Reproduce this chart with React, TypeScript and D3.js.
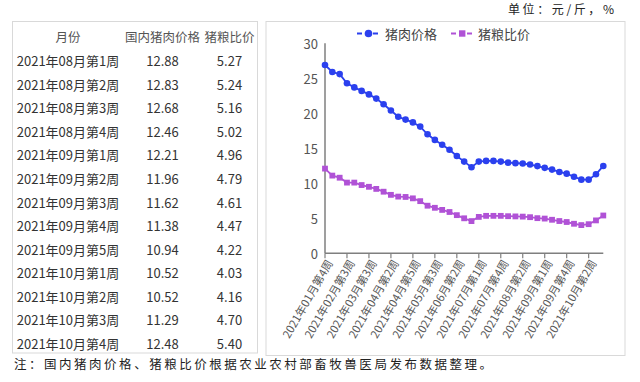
import React from "react";
import * as d3 from "d3";

const categories: string[] = [
  "2021年01月第4周","2021年02月第1周","2021年02月第2周","2021年02月第3周","2021年03月第1周",
  "2021年03月第2周","2021年03月第3周","2021年03月第4周","2021年04月第1周","2021年04月第2周",
  "2021年04月第3周","2021年04月第4周","2021年04月第5周","2021年05月第1周","2021年05月第2周",
  "2021年05月第3周","2021年05月第4周","2021年06月第1周","2021年06月第2周","2021年06月第3周",
  "2021年06月第4周","2021年07月第1周","2021年07月第2周","2021年07月第3周","2021年07月第4周",
  "2021年07月第5周","2021年08月第1周","2021年08月第2周","2021年08月第3周","2021年08月第4周",
  "2021年09月第1周","2021年09月第2周","2021年09月第3周","2021年09月第4周","2021年09月第5周",
  "2021年10月第1周","2021年10月第2周","2021年10月第3周","2021年10月第4周",
];

const porkPrice: number[] = [
  26.9, 25.9, 25.6, 24.3, 23.7, 23.2, 22.7, 22.1, 21.3, 20.4,
  19.5, 19.1, 18.7, 18.1, 17.0, 16.2, 15.5, 14.8, 13.9, 13.1,
  12.3, 13.1, 13.2, 13.2, 13.1, 12.95,
  12.88, 12.83, 12.68, 12.46, 12.21, 11.96, 11.62, 11.38, 10.94, 10.52, 10.52, 11.29, 12.48,
];

const hogGrainRatio: number[] = [
  12.1, 11.1, 10.8, 10.1, 10.1, 9.75, 9.5, 9.2, 8.8, 8.35,
  8.1, 8.05, 7.85, 7.45, 6.8, 6.5, 6.2, 5.9, 5.45, 5.0,
  4.6, 5.2, 5.35, 5.35, 5.35, 5.3,
  5.27, 5.24, 5.16, 5.02, 4.96, 4.79, 4.61, 4.47, 4.22, 4.03, 4.16, 4.70, 5.40,
];

const tableHeaders: string[] = ["月份", "国内猪肉价格", "猪粮比价"];
const seriesNames: string[] = ["猪肉价格", "猪粮比价"];
const yTicks: number[] = [0, 5, 10, 15, 20, 25, 30];
const unitText = "单位：元/斤，%";
const noteText = "注：国内猪肉价格、猪粮比价根据农业农村部畜牧兽医局发布数据整理。";

const BLUE = "#2b40ee";
const PURPLE = "#b052d6";
const FONT = "'Noto Sans CJK SC', 'Noto Sans', sans-serif";

export default function App() {
  const x = d3.scalePoint<string>().domain(categories).range([325, 603.3]).padding(0);
  const y = d3.scaleLinear().domain([0, 30]).range([253.3, 43.3]);

  const line = d3
    .line<number>()
    .x((_, i) => x(categories[i]) as number)
    .y((d) => y(d));

  const tickCats = categories.filter((_, i) => i % 3 === 0);

  const tableCats = categories.slice(-13);
  const tablePrice = porkPrice.slice(-13);
  const tableRatio = hogGrainRatio.slice(-13);
  const colX = [68, 162.5, 229.5];
  const rowY0 = 60.7;
  const rowStep = 23.55;

  return (
    <svg
      width={640}
      height={382}
      style={{ position: "absolute", left: 0, top: 0, background: "#fff" }}
      fontFamily={FONT}
    >
      <rect x={0} y={0} width={640} height={382} fill="#fff" />
      {/* unit */}
      <text x={508} y={13.5} fontSize={12} fill="#222" textLength={106} lengthAdjust="spacing">
        {unitText}
      </text>

      {/* table */}
      <rect x={12.5} y={21.5} width={245} height={331.5} fill="none" stroke="#d9d9d9" strokeWidth={1} />
      {tableHeaders.map((h, i) => (
        <text key={h} x={colX[i]} y={36} fontSize={12.5} fill="#555" textAnchor="middle" dominantBaseline="central">
          {h}
        </text>
      ))}
      {tableCats.map((c, r) => (
        <g key={c} fontSize={13} fill="#333">
          <text x={colX[0]} y={rowY0 + r * rowStep} textAnchor="middle" dominantBaseline="central">
            {c}
          </text>
          <text x={colX[1]} y={rowY0 + r * rowStep} textAnchor="middle" dominantBaseline="central">
            {tablePrice[r].toFixed(2)}
          </text>
          <text x={colX[2]} y={rowY0 + r * rowStep} textAnchor="middle" dominantBaseline="central">
            {tableRatio[r].toFixed(2)}
          </text>
        </g>
      ))}

      {/* chart frame */}
      <rect x={266} y={21.5} width={359} height={334} fill="none" stroke="#d9d9d9" strokeWidth={1} />

      {/* legend */}
      <line x1={357} x2={380} y1={33.5} y2={33.5} stroke={BLUE} strokeWidth={1.8} strokeDasharray="5,3" />
      <circle cx={368.5} cy={33.5} r={3.8} fill={BLUE} />
      <text x={385} y={33.5} fontSize={13} fill="#444" dominantBaseline="central">
        {seriesNames[0]}
      </text>
      <line x1={451} x2={473} y1={33.5} y2={33.5} stroke={PURPLE} strokeWidth={1.8} strokeDasharray="5,3" />
      <rect x={459} y={30.3} width={6.4} height={6.4} fill={PURPLE} />
      <text x={478} y={33.5} fontSize={13} fill="#444" dominantBaseline="central">
        {seriesNames[1]}
      </text>

      {/* y axis */}
      <line x1={325} x2={325} y1={y(30)} y2={y(0)} stroke="#7f7f7f" strokeWidth={1.5} />
      {yTicks.map((t) => (
        <text key={t} x={318} y={y(t)} fontSize={13} fill="#555" textAnchor="end" dominantBaseline="central">
          {t}
        </text>
      ))}

      {/* x axis */}
      <line x1={325} x2={603.3} y1={y(0)} y2={y(0)} stroke="#7f7f7f" strokeWidth={1.5} />
      {tickCats.map((c) => {
        const xp = x(c) as number;
        return (
          <g key={c}>
            <line x1={xp} x2={xp} y1={y(0)} y2={y(0) + 5} stroke="#7f7f7f" strokeWidth={1.2} />
            <text
              transform={`translate(${xp + 4},${y(0) + 7}) rotate(-60)`}
              fontSize={11.2}
              fill="#595959"
              textAnchor="end"
              dominantBaseline="central"
            >
              {c}
            </text>
          </g>
        );
      })}

      {/* series */}
      <path d={line(porkPrice) || ""} fill="none" stroke={BLUE} strokeWidth={1.8} />
      {porkPrice.map((v, i) => (
        <circle key={i} cx={x(categories[i]) as number} cy={y(v)} r={3.3} fill={BLUE} />
      ))}
      <path d={line(hogGrainRatio) || ""} fill="none" stroke={PURPLE} strokeWidth={1.8} />
      {hogGrainRatio.map((v, i) => (
        <rect key={i} x={(x(categories[i]) as number) - 2.9} y={y(v) - 2.9} width={5.8} height={5.8} fill={PURPLE} />
      ))}

      {/* note */}
      <text x={14} y={369} fontSize={12.5} fill="#222" textLength={478} lengthAdjust="spacing">
        {noteText}
      </text>
    </svg>
  );
}
